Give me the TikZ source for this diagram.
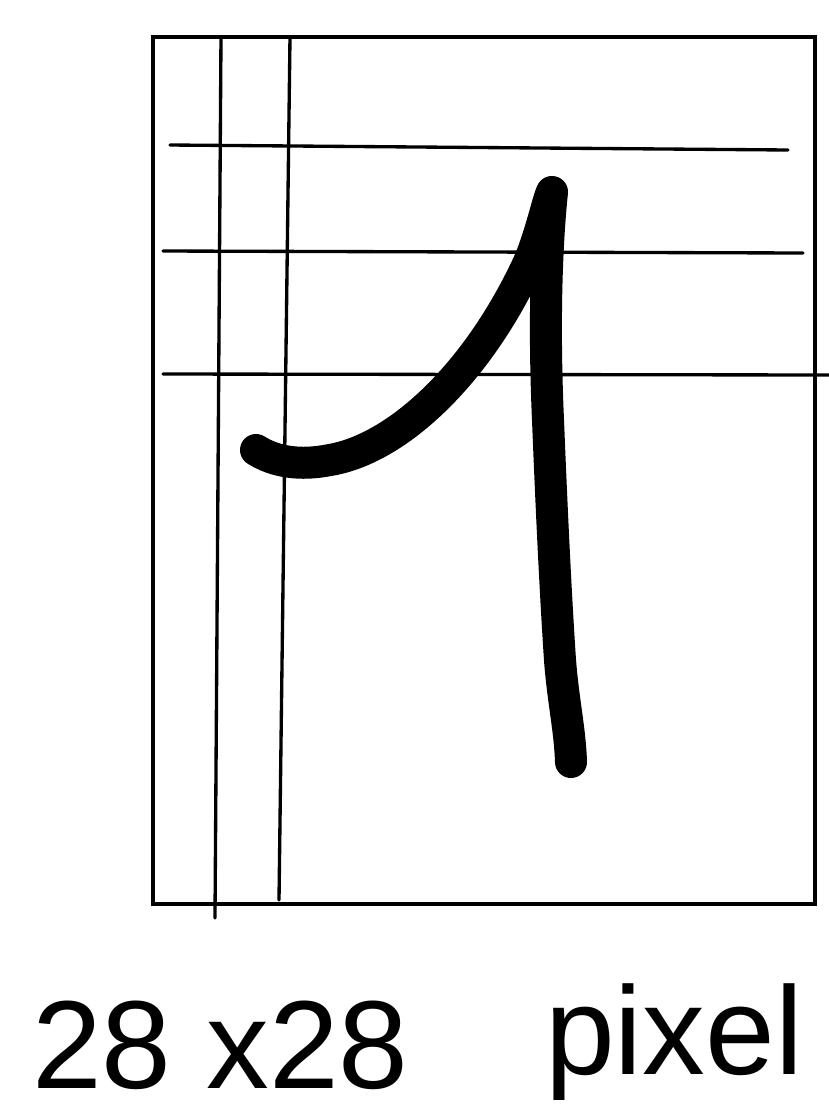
\documentclass[tikz,border=0pt]{standalone}
\usepackage{fontspec}
\setmainfont{Liberation Sans}
\begin{document}
\begin{tikzpicture}[x=0.75pt,y=-0.75pt,
  frame/.style={line width=3pt,line join=miter},
  guide/.style={line width=2.5pt,line cap=round},
  digit/.style={line width=24pt,line cap=round,line join=round},
  hand/.style={font=\fontsize{94}{94}\selectfont,inner sep=0pt,anchor=base west}]
\useasboundingbox (0,0) rectangle (829,1115);
% frame
\draw[frame] (153,37) rectangle (815,904);
% vertical guides
\draw[guide] (221,37) -- (215,918);
\draw[guide] (290,37) -- (279,900);
% horizontal guides
\draw[guide] (170,145) -- (788,150);
\draw[guide] (163,251) -- (803,253);
\draw[guide] (163,374) -- (829,375);
% the digit 1
\draw[digit] (256,450) .. controls (275,462) and (300,466) .. (330,460)
  .. controls (400,448) and (480,370) .. (530,260)
  .. controls (542,230) and (548,200) .. (552,192)
  .. controls (546,250) and (544,330) .. (548,420)
  .. controls (552,520) and (556,600) .. (560,660)
  .. controls (563,700) and (570,730) .. (571,762);
% caption
\node[hand] (size) at (32,1088) {28 x28};
\node[hand] (word) at (545,1074) {pixel};
\end{tikzpicture}
\end{document}
